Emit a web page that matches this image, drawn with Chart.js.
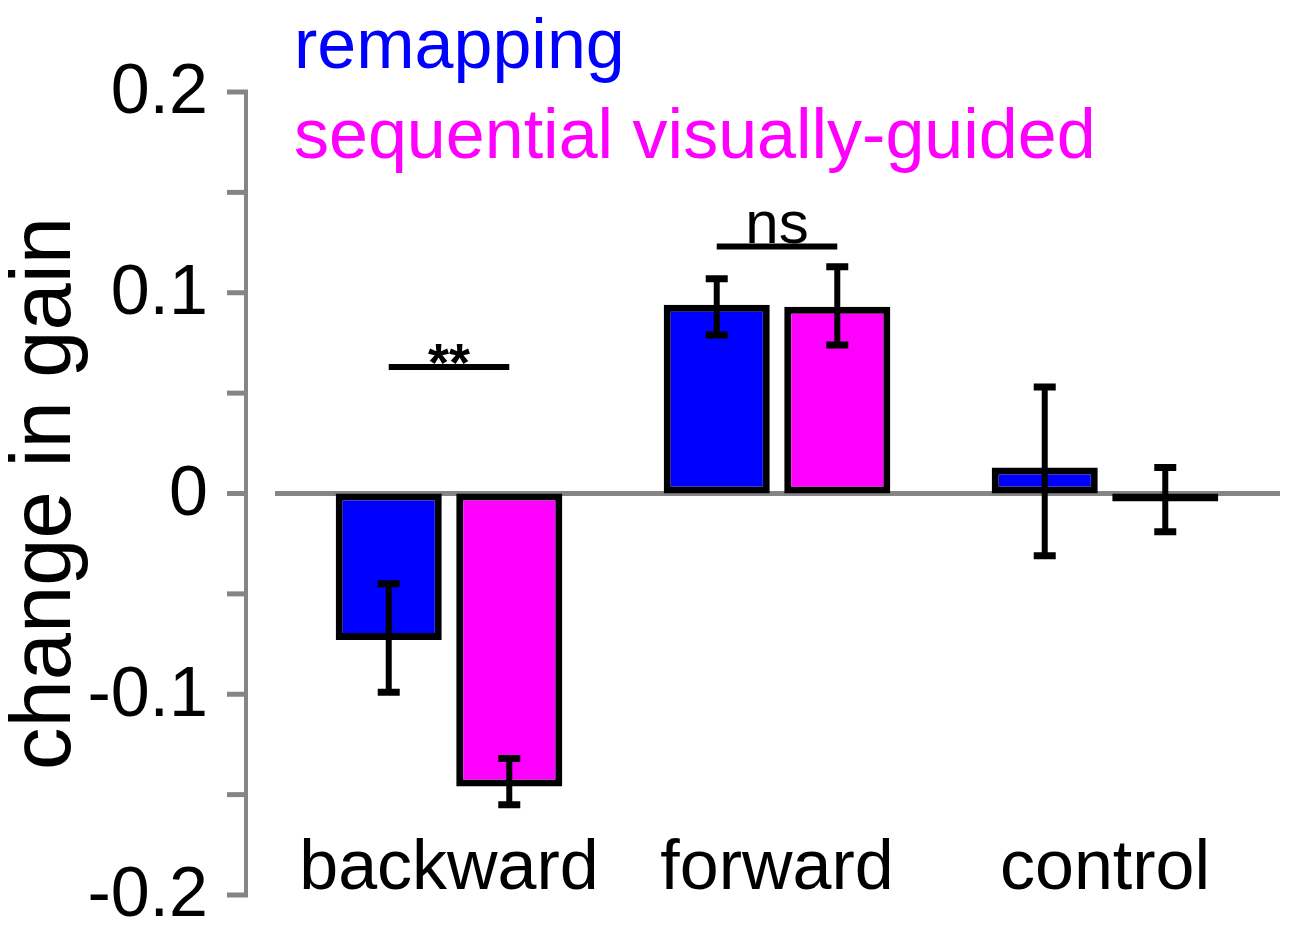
<!DOCTYPE html>
<html>
<head>
<meta charset="utf-8">
<title>change in gain</title>
<script src="https://cdn.jsdelivr.net/npm/chart.js@4/dist/chart.umd.min.js"></script>
<style>
	html, body { margin: 0; padding: 0; background: #fff; }
	#wrap { width: 1300px; height: 932px; position: relative; }
</style>
</head>
<body>
<div id="wrap"><canvas id="chart"></canvas></div>
<script>
// values
const categories = ["backward", "forward", "control"];
const seriesNames = ["remapping", "sequential visually-guided"];
const remapping = [-0.073, 0.094, 0.013];
const remappingHigh = [-0.045, 0.107, 0.053];
const remappingLow = [-0.099, 0.079, -0.031];
const sequential = [-0.146, 0.093, -0.004];
const sequentialHigh = [-0.132, 0.113, 0.013];
const sequentialLow = [-0.155, 0.074, -0.019];
const yTickLabels = ["0.2", "0.1", "0", "-0.1", "-0.2"];
const sigLabels = ["**", "ns", ""];
const sigLevels = [0.063, 0.123, null];

const FONT = "'Liberation Sans', Arial, sans-serif";
const GREY = "#858585";

const errHigh = [remappingHigh, sequentialHigh];
const errLow = [remappingLow, sequentialLow];

// y axis line, ticks and the zero line, drawn behind the bars
const axisPlugin = {
	id: "axisLines",
	beforeDatasetsDraw(chart) {
		const ctx = chart.ctx;
		const y = chart.scales.y;
		const area = chart.chartArea;
		const axisX = area.left - 39;
		ctx.save();
		ctx.strokeStyle = GREY;
		ctx.lineWidth = 4;
		ctx.beginPath();
		ctx.moveTo(axisX, y.getPixelForValue(0.2));
		ctx.lineTo(axisX, y.getPixelForValue(-0.2));
		ctx.stroke();
		ctx.lineWidth = 5;
		for (let v = -0.2; v <= 0.2001; v += 0.05) {
			const py = y.getPixelForValue(v);
			ctx.beginPath();
			ctx.moveTo(axisX - 19, py);
			ctx.lineTo(axisX + 2, py);
			ctx.stroke();
		}
		const zero = y.getPixelForValue(0);
		ctx.beginPath();
		ctx.moveTo(area.left - 10, zero);
		ctx.lineTo(area.right + 11, zero);
		ctx.stroke();
		ctx.restore();
	}
};

// error bars, significance marks and the coloured legend text
const overlayPlugin = {
	id: "overlay",
	afterDatasetsDraw(chart) {
		const ctx = chart.ctx;
		const y = chart.scales.y;
		ctx.save();
		ctx.strokeStyle = "#000";
		for (let d = 0; d < chart.data.datasets.length; d++) {
			const meta = chart.getDatasetMeta(d);
			for (let i = 0; i < meta.data.length; i++) {
				const x = meta.data[i].x;
				const top = y.getPixelForValue(errHigh[d][i]);
				const bot = y.getPixelForValue(errLow[d][i]);
				ctx.lineWidth = 6;
				ctx.beginPath();
				ctx.moveTo(x, top);
				ctx.lineTo(x, bot);
				ctx.stroke();
				ctx.lineWidth = 7;
				ctx.beginPath();
				ctx.moveTo(x - 11, top);
				ctx.lineTo(x + 11, top);
				ctx.moveTo(x - 11, bot);
				ctx.lineTo(x + 11, bot);
				ctx.stroke();
			}
		}

		const m0 = chart.getDatasetMeta(0);
		const m1 = chart.getDatasetMeta(1);
		ctx.fillStyle = "#000";
		ctx.textAlign = "center";
		ctx.textBaseline = "alphabetic";
		for (let i = 0; i < sigLabels.length; i++) {
			if (sigLevels[i] === null) continue;
			const x1 = m0.data[i].x;
			const x2 = m1.data[i].x;
			const py = y.getPixelForValue(sigLevels[i]);
			ctx.lineWidth = 6;
			ctx.beginPath();
			ctx.moveTo(x1, py);
			ctx.lineTo(x2, py);
			ctx.stroke();
			if (sigLabels[i] === "**") {
				ctx.font = "bold 54px " + FONT;
				ctx.fillText(sigLabels[i], (x1 + x2) / 2, py + 14);
			} else {
				ctx.font = "60px " + FONT;
				ctx.fillText(sigLabels[i], (x1 + x2) / 2, py - 4);
			}
		}

		ctx.textAlign = "left";
		ctx.font = "70px " + FONT;
		const area = chart.chartArea;
		chart.data.datasets.forEach(function (ds, d) {
			ctx.fillStyle = ds.backgroundColor;
			ctx.fillText(ds.label, area.left + 9, area.top - 24 + d * 90);
		});
		ctx.restore();
	}
};

new Chart(document.getElementById("chart"), {
	type: "bar",
	data: {
		labels: categories,
		datasets: [
			{
				label: seriesNames[0],
				data: remapping,
				backgroundColor: "#0000ff",
				borderColor: "#000",
				borderWidth: 7,
				borderSkipped: false
			},
			{
				label: seriesNames[1],
				data: sequential,
				backgroundColor: "#ff00ff",
				borderColor: "#000",
				borderWidth: 7,
				borderSkipped: false
			}
		]
	},
	options: {
		responsive: true,
		maintainAspectRatio: false,
		animation: false,
		devicePixelRatio: 1,
		categoryPercentage: 0.735,
		barPercentage: 0.88,
		layout: { padding: { top: 92, right: 31, bottom: 37, left: 0 } },
		plugins: {
			legend: { display: false },
			tooltip: { enabled: false }
		},
		scales: {
			x: {
				position: { y: -0.166 },
				afterFit(scale) {
					scale.height = 0;
				},
				grid: { display: false },
				border: { display: false },
				ticks: {
					color: "#000",
					padding: 0,
					font: { family: FONT, size: 70, lineHeight: 1 }
				}
			},
			y: {
				min: -0.2,
				max: 0.2,
				afterFit(scale) {
					scale.width = 285;
					scale.paddingTop = 0;
					scale.paddingBottom = 0;
				},
				afterBuildTicks(scale) {
					scale.ticks = yTickLabels.map(function (t) {
						return { value: Number(t) };
					});
				},
				grid: { display: false, drawTicks: false },
				border: { display: false },
				ticks: {
					color: "#000",
					padding: 77,
					labelOffset: 2,
					font: { family: FONT, size: 70, lineHeight: 1 },
					callback: function (value, index) {
						return yTickLabels[index];
					}
				},
				title: {
					display: true,
					text: "change in gain",
					color: "#000",
					padding: { top: 4, bottom: 0 },
					font: { family: FONT, size: 85, lineHeight: 1 }
				}
			}
		}
	},
	plugins: [axisPlugin, overlayPlugin]
});
</script>
</body>
</html>
